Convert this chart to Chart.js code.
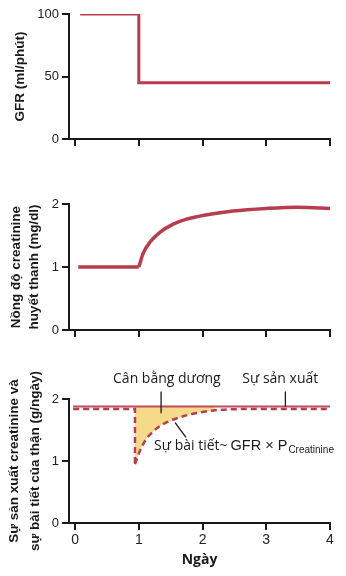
<!DOCTYPE html>
<html lang="vi">
<head>
<meta charset="UTF-8">
<title>Creatinine và GFR</title>
<script src="https://cdn.jsdelivr.net/npm/chart.js"></script>
<style>
  body { margin: 0; background: #fff; }
  #wrap { position: relative; width: 346px; height: 576px; }
  canvas { position: absolute; left: 0; }
</style>
</head>
<body>
<div id="wrap">
  <canvas id="gfrChart" width="346" height="160" style="top:0"></canvas>
  <canvas id="plasmaChart" width="346" height="180" style="top:170px"></canvas>
  <canvas id="balanceChart" width="346" height="226" style="top:350px"></canvas>
</div>
<script>
// GFR (ml/phút) theo ngày
const gfrDays = [0.08, 1, 1, 4];
const gfrValues = [100, 100, 45, 45];

// Nồng độ creatinine huyết thanh (mg/dl)
const plasmaFlatDays = [0.05, 1];
const plasmaFlatValues = [1, 1];
const plasmaDays = [1, 1.07, 1.18, 1.33, 1.54, 1.75, 2.07, 2.48, 3, 3.5, 4];
const plasmaValues = [1, 1.22, 1.40, 1.55, 1.68, 1.76, 1.83, 1.89, 1.93, 1.95, 1.93];

// Sản xuất và bài tiết creatinine (g/ngày)
const productionDays = [-0.03, 4];
const productionValues = [1.88, 1.88];
const excretionFlatDays = [-0.03, 0.94, 0.94];
const excretionFlatValues = [1.84, 1.84, 0.95];
const excretionDays = [0.94, 1.0, 1.1, 1.2, 1.3, 1.45, 1.6, 1.8, 2.0, 2.2, 2.5, 3, 4];
const excretionValues = [0.95, 1.12, 1.33, 1.45, 1.54, 1.63, 1.69, 1.75, 1.79, 1.82, 1.835, 1.84, 1.84];
const balanceCount = 10; // số điểm tô vàng (cân bằng dương)

const dayTicks = [0, 1, 2, 3, 4];

const ink = '#1a1a1a';
const red = '#b73d4e';
const sans = '"Liberation Sans", Arial, sans-serif';
const humanist = '"Open Sans", "Noto Sans", sans-serif';

const pts = (xs, ys) => xs.map((x, i) => ({ x: x, y: ys[i] }));

function dayAxis(height, showLabels) {
  return {
    type: 'linear', min: -0.095, max: 4,
    border: { color: ink, width: 2 },
    grid: { drawOnChartArea: false, color: ink, lineWidth: 2, tickLength: 7 },
    afterBuildTicks: s => { s.ticks = dayTicks.map(v => ({ value: v })); },
    ticks: {
      display: showLabels, color: '#222', padding: 2,
      font: { family: sans, size: 14 }
    },
    title: {
      display: showLabels, text: 'Ngày', color: ink,
      font: { family: humanist, size: 14, weight: 'bold' },
      padding: { top: 0, bottom: 8 }
    },
    afterFit: s => { s.height = height; }
  };
}

function valueAxis(max, step, title, lineHeight, pad) {
  return {
    type: 'linear', min: 0, max: max,
    border: { color: ink, width: 2 },
    grid: { drawOnChartArea: false, color: ink, lineWidth: 2, tickLength: 7 },
    ticks: { stepSize: step, color: '#222', padding: 3, font: { family: sans, size: 13 } },
    title: {
      display: true, text: title, color: ink,
      font: { family: sans, size: 13.5, weight: 'bold', lineHeight: lineHeight },
      padding: { top: pad, bottom: 0 }
    },
    afterFit: s => { s.width = 69; }
  };
}

function line(data, extra) {
  return Object.assign({
    data: data, borderColor: red, borderWidth: 3, pointRadius: 0,
    tension: 0, fill: false, borderJoinStyle: 'miter'
  }, extra);
}

function baseOptions(top, xHeight, showLabels, yAxis) {
  return {
    responsive: false, animation: false,
    layout: { padding: { top: top, right: 16, left: 0, bottom: 0 } },
    plugins: { legend: { display: false }, tooltip: { enabled: false } },
    scales: { x: dayAxis(xHeight, showLabels), y: yAxis }
  };
}

// nhãn chú thích ở biểu đồ dưới
const balanceLabels = {
  id: 'balanceLabels',
  afterDraw(chart) {
    const { ctx } = chart;
    const x = chart.scales.x, y = chart.scales.y;
    const prodY = y.getPixelForValue(productionValues[0]);
    ctx.save();
    ctx.fillStyle = ink;
    ctx.strokeStyle = ink;
    ctx.lineWidth = 1.3;

    ctx.font = '14px ' + humanist;
    ctx.textAlign = 'center';
    ctx.textBaseline = 'middle';
    ctx.fillText('Cân bằng dương', x.getPixelForValue(1.44), y.getPixelForValue(2.32));
    ctx.fillText('Sự sản xuất', x.getPixelForValue(3.22), y.getPixelForValue(2.32));

    ctx.beginPath();
    ctx.moveTo(x.getPixelForValue(1.35), y.getPixelForValue(2.12));
    ctx.lineTo(x.getPixelForValue(1.35), y.getPixelForValue(1.77));
    ctx.moveTo(x.getPixelForValue(3.3), y.getPixelForValue(2.12));
    ctx.lineTo(x.getPixelForValue(3.3), prodY);
    ctx.moveTo(x.getPixelForValue(1.57), y.getPixelForValue(1.62));
    ctx.lineTo(x.getPixelForValue(1.74), y.getPixelForValue(1.38));
    ctx.stroke();

    ctx.textAlign = 'left';
    ctx.textBaseline = 'alphabetic';
    let tx = x.getPixelForValue(1.24);
    const ty = y.getPixelForValue(1.18);
    ctx.fillText('Sự bài tiết~', tx, ty);
    tx += ctx.measureText('Sự bài tiết~').width + 3;
    ctx.font = '14.5px ' + sans;
    ctx.fillText('GFR × P', tx, ty);
    tx += ctx.measureText('GFR × P').width + 1;
    ctx.font = '10px ' + sans;
    ctx.fillText('Creatinine', tx, ty + 3);
    ctx.restore();
  }
};

new Chart(document.getElementById('gfrChart'), {
  type: 'line',
  data: { datasets: [line(pts(gfrDays, gfrValues))] },
  options: baseOptions(14, 21, false, valueAxis(100, 50, 'GFR (ml/phút)', 1.2, 12))
});

new Chart(document.getElementById('plasmaChart'), {
  type: 'line',
  data: {
    datasets: [
      line(pts(plasmaFlatDays, plasmaFlatValues), { borderWidth: 3.5 }),
      line(pts(plasmaDays, plasmaValues), { borderWidth: 3.5, cubicInterpolationMode: 'monotone' })
    ]
  },
  options: baseOptions(34, 20, false,
    valueAxis(2, 1, ['Nồng độ creatinine', 'huyết thanh (mg/dl)'], 1.3, 8))
});

new Chart(document.getElementById('balanceChart'), {
  type: 'line',
  data: {
    datasets: [
      line(pts(productionDays, productionValues), { borderWidth: 2, borderColor: '#c24b5a' }),
      line(pts(excretionFlatDays, excretionFlatValues), { borderWidth: 2.5, borderDash: [6, 4] }),
      line(pts(excretionDays, excretionValues), {
        borderWidth: 2.5, borderDash: [6, 4], cubicInterpolationMode: 'monotone'
      }),
      line(pts(excretionDays.slice(0, balanceCount), excretionValues.slice(0, balanceCount)), {
        borderWidth: 0, cubicInterpolationMode: 'monotone',
        fill: 0, backgroundColor: '#f5da8c'
      })
    ]
  },
  options: baseOptions(49, 53, true,
    valueAxis(2, 1, ['Sự sản xuất creatinine và', 'sự bài tiết của thận (g/ngày)'], 1.6, 3)),
  plugins: [balanceLabels]
});
</script>
</body>
</html>
